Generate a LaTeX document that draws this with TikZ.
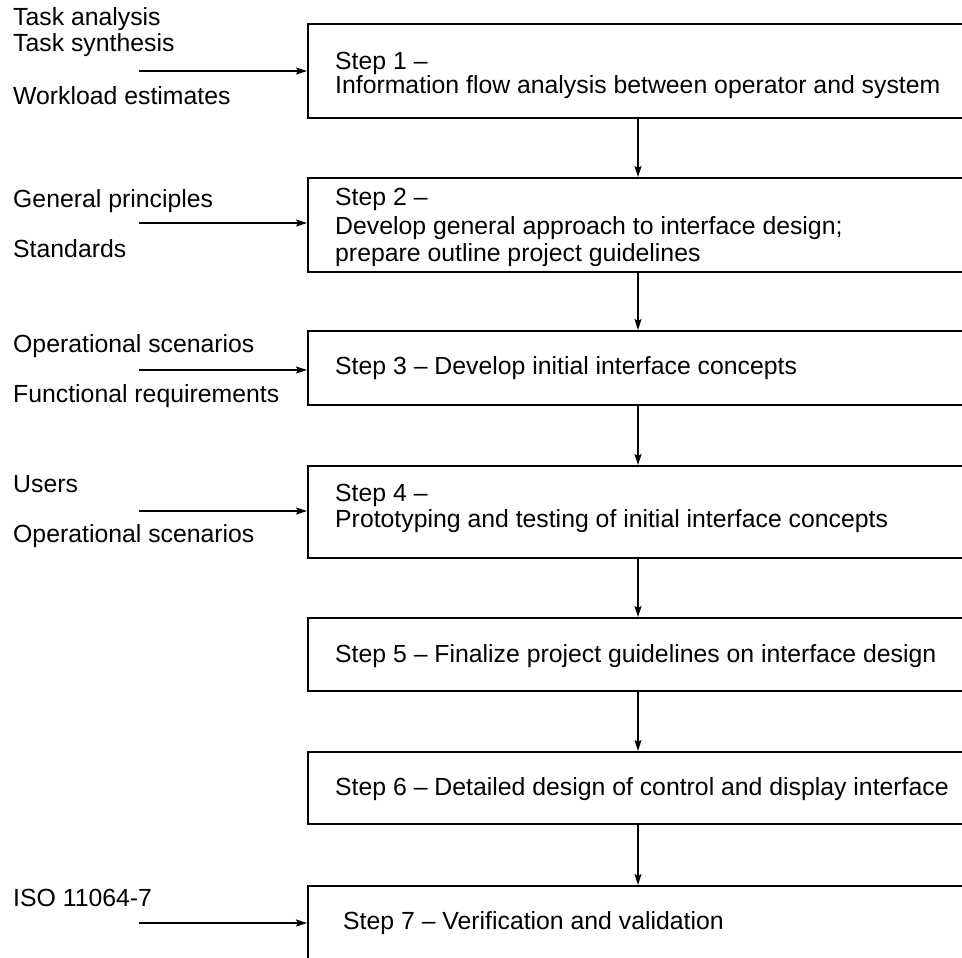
\documentclass[tikz,border=0pt]{standalone}
\usepackage{fontspec}
\setmainfont{Liberation Sans}
\usetikzlibrary{arrows.meta}
\begin{document}
\begin{tikzpicture}[x=1pt,y=-1pt,
  stepbox/.style={draw, line width=1.8pt, rectangle, anchor=north west,
    minimum width=720pt, inner sep=0pt},
  steptext/.style={anchor=base west, inner sep=0pt, align=left,
    font=\fontsize{24.8}{26}\selectfont},
  feed/.style={line width=1.5pt, -{Stealth[length=11pt,width=7pt,inset=2pt]}},
  src/.style={anchor=base west, inner sep=0pt, font=\fontsize{24.8}{26}\selectfont}]
\useasboundingbox (0,0) rectangle (962,958);
\clip (0,0) rectangle (962,958);

% process step frames
\node[stepbox, minimum height=94pt] (b1) at (307,23) {};
\node[stepbox, minimum height=94pt] (b2) at (307,177) {};
\node[stepbox, minimum height=74pt] (b3) at (307,330) {};
\node[stepbox, minimum height=92pt] (b4) at (307,465) {};
\node[stepbox, minimum height=73pt] (b5) at (307,617) {};
\node[stepbox, minimum height=72pt] (b6) at (307,751) {};
\node[stepbox, minimum height=120pt] (b7) at (307,885) {};

% step descriptions
\node[steptext] (s1a) at ([shift={(28,47)}]b1.north west) {Step 1 –};
\node[steptext] (s1b) at ([shift={(28,70)}]b1.north west)
  {Information flow analysis between operator and system};
\node[steptext] (s2a) at ([shift={(28,28)}]b2.north west) {Step 2 –};
\node[steptext] (s2b) at ([shift={(28,57)}]b2.north west)
  {Develop general approach to interface design;};
\node[steptext] (s2c) at ([shift={(28,84)}]b2.north west)
  {prepare outline project guidelines};
\node[steptext] (s3) at ([shift={(28,44)}]b3.north west)
  {Step 3 – Develop initial interface concepts};
\node[steptext] (s4a) at ([shift={(28,36)}]b4.north west) {Step 4 –};
\node[steptext] (s4b) at ([shift={(28,62)}]b4.north west)
  {Prototyping and testing of initial interface concepts};
\node[steptext] (s5) at ([shift={(28,45)}]b5.north west)
  {Step 5 – Finalize project guidelines on interface design};
\node[steptext] (s6) at ([shift={(28,44)}]b6.north west)
  {Step 6 – Detailed design of control and display interface};
\node[steptext] (s7) at ([shift={(36,44)}]b7.north west)
  {Step 7 – Verification and validation};

% flow between steps
\coordinate (spine) at (638,0);
\foreach \a/\b in {b1/b2,b2/b3,b3/b4,b4/b5,b5/b6,b6/b7}
  \draw[feed] (\a.south -| spine) -- (\b.north -| spine);

% inputs
\node[src] (t1) at (13,26) {Task analysis};
\node[src] (t2) at (13,52) {Task synthesis};
\node[src] (t3) at (13,105) {Workload estimates};
\node[src] (t4) at (13,207) {General principles};
\node[src] (t5) at (13,257) {Standards};
\node[src] (t6) at (13,352) {Operational scenarios};
\node[src] (t7) at (13,402) {Functional requirements};
\node[src] (t8) at (13,492) {Users};
\node[src] (t9) at (13,542) {Operational scenarios};
\node[src] (t10) at (13,906) {ISO 11064-7};

\coordinate (i1) at (139,71);
\coordinate (i2) at (139,223);
\coordinate (i3) at (139,370);
\coordinate (i4) at (139,511);
\coordinate (i7) at (139,923);
\draw[feed] (i1) -- (i1 -| b1.west);
\draw[feed] (i2) -- (i2 -| b2.west);
\draw[feed] (i3) -- (i3 -| b3.west);
\draw[feed] (i4) -- (i4 -| b4.west);
\draw[feed] (i7) -- (i7 -| b7.west);
\end{tikzpicture}
\end{document}
